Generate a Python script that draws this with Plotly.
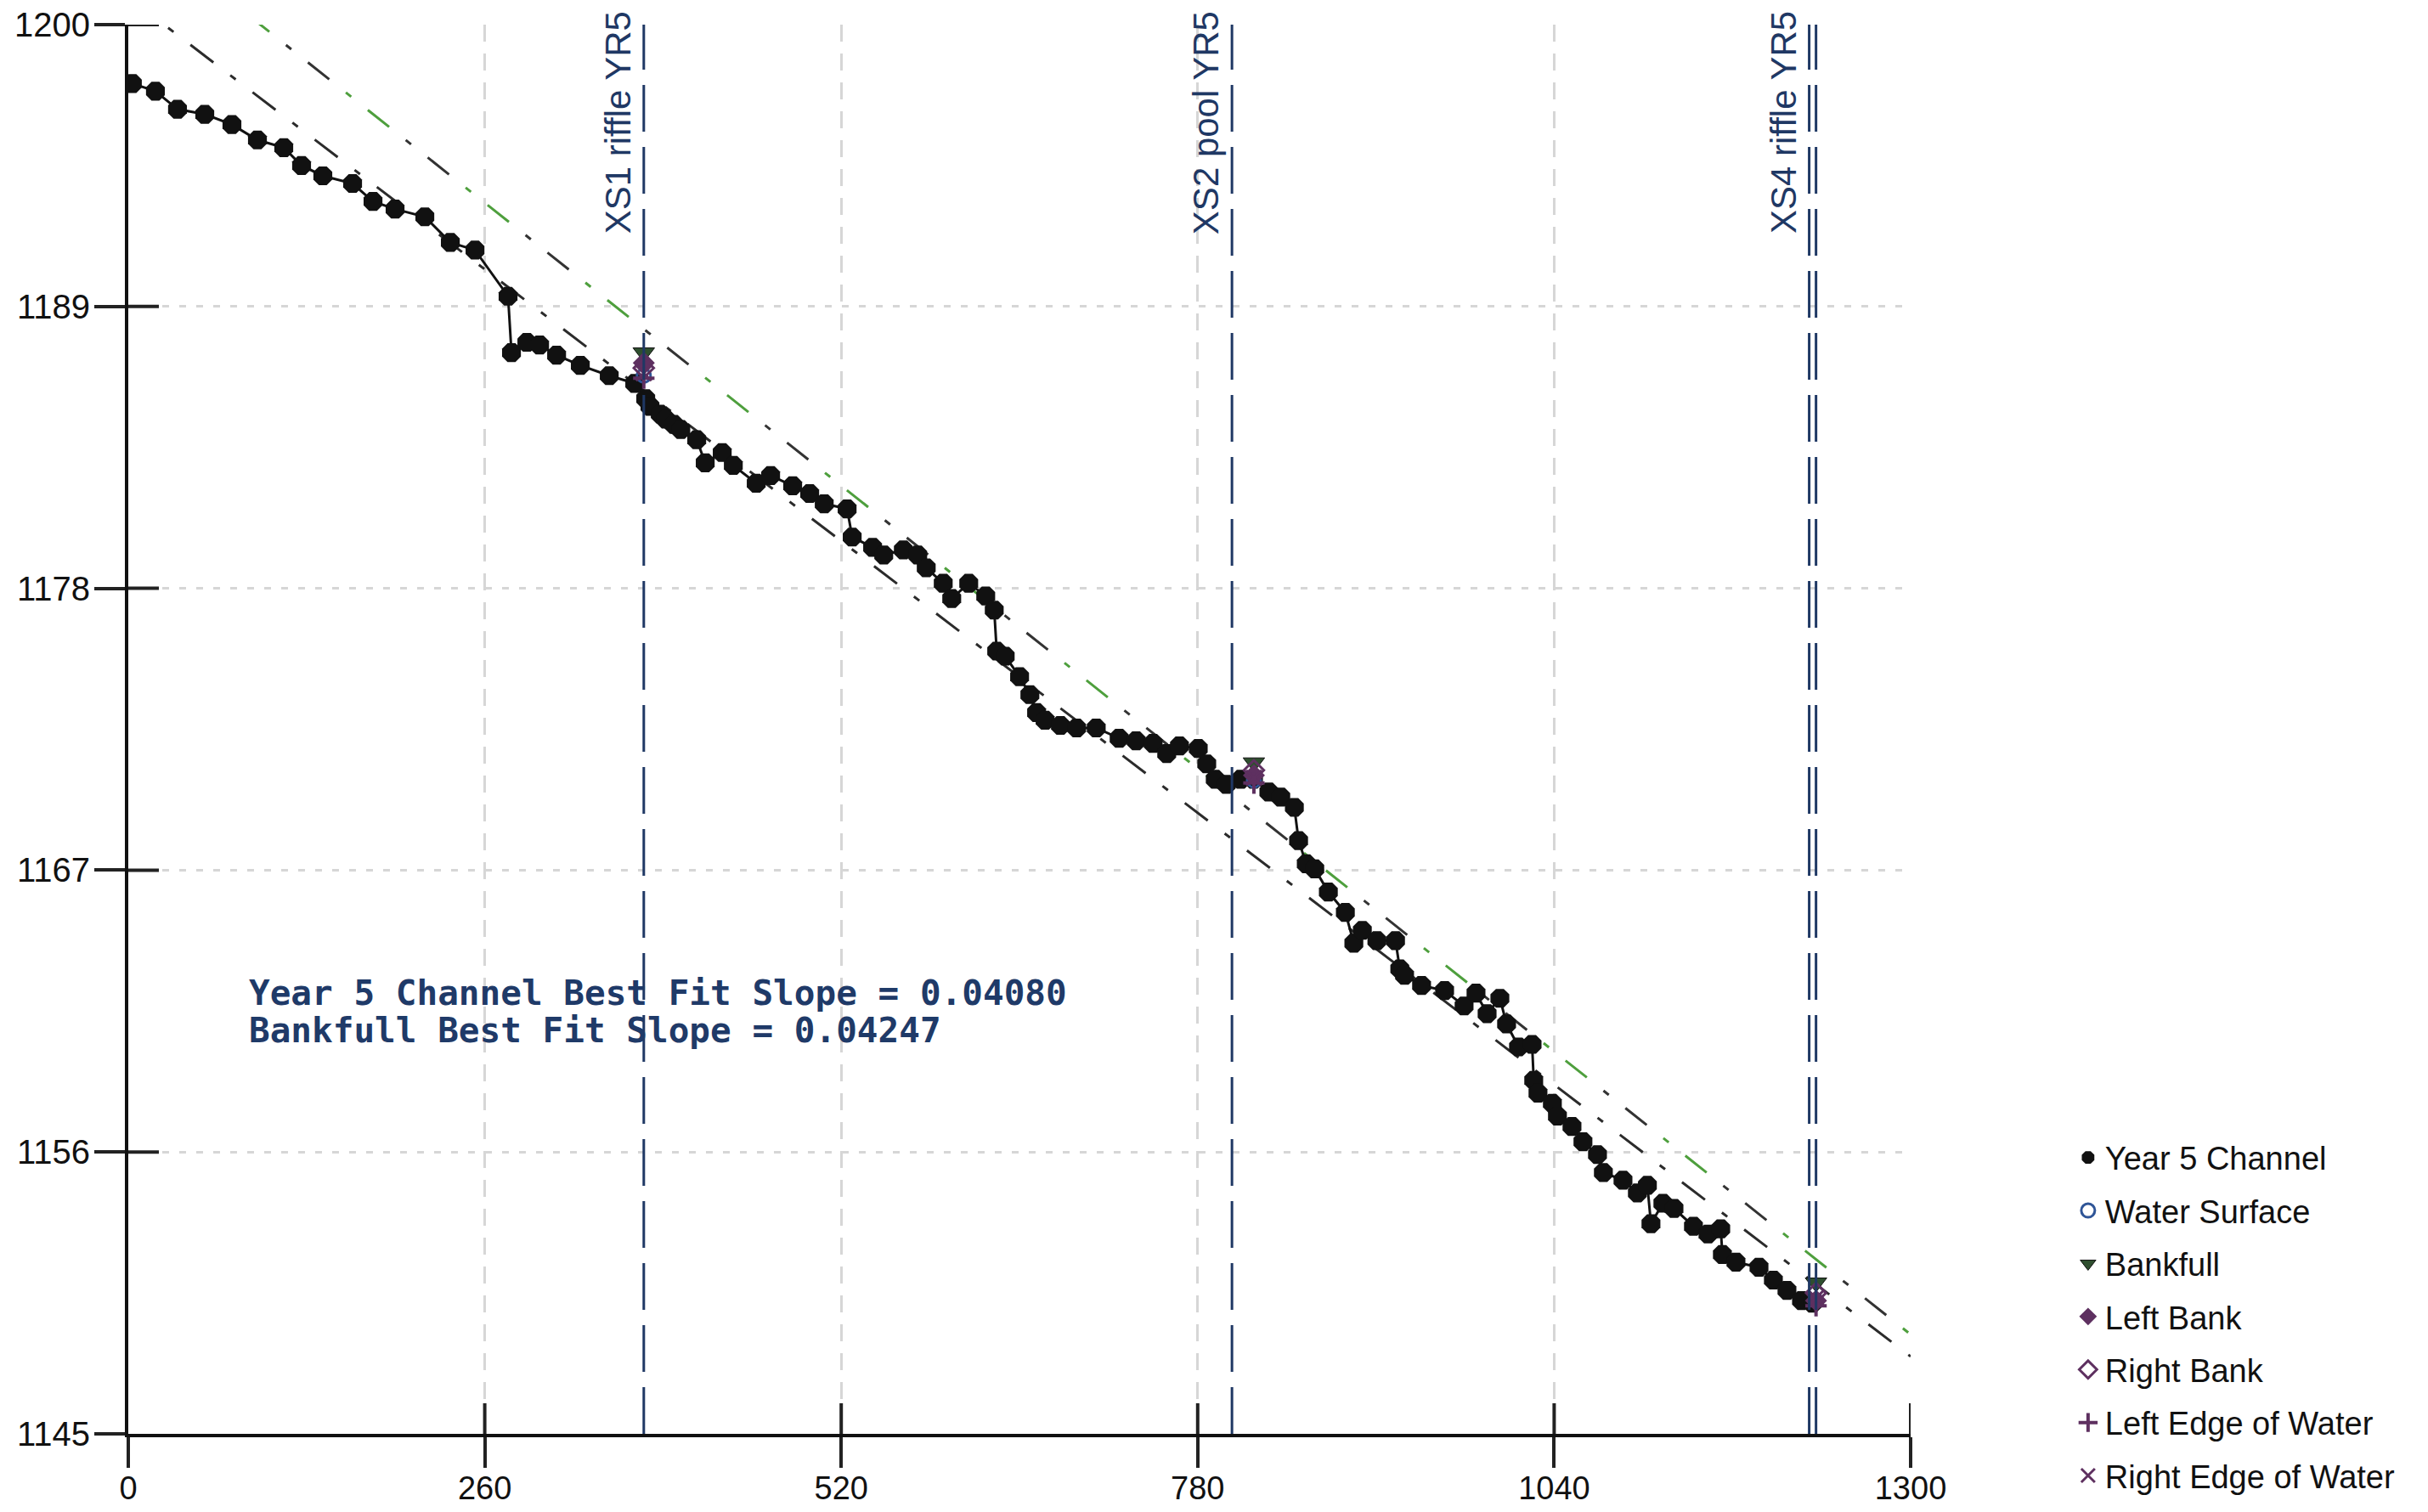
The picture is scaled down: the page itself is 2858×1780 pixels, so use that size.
import plotly.graph_objects as go

# ---- Year 5 longitudinal profile: station (ft) vs. thalweg elevation (ft) ----
station = [
    3.0, 19.8, 35.9, 55.8, 75.6, 94.2, 113.4, 126.4, 141.9, 163.6,
    178.5, 194.6, 216.3, 234.9, 252.9, 277.0, 279.5, 290.7, 300.0, 312.4,
    329.7, 350.8, 369.4, 377.4, 380.5, 388.0, 392.0, 397.9, 403.0, 414.6,
    420.8, 433.2, 441.3, 458.0, 468.5, 484.6, 497.0, 507.6, 524.3, 528.0,
    542.9, 551.0, 565.3, 575.8, 582.0, 594.4, 600.6, 613.0, 625.4, 631.6,
    633.4, 639.6, 650.1, 657.6, 662.5, 668.7, 679.9, 691.7, 706.0, 722.7,
    735.1, 747.5, 757.4, 766.7, 780.4, 786.6, 792.8, 800.9, 811.4, 820.7,
    831.9, 840.6, 850.5, 853.6, 859.2, 865.4, 875.3, 887.7, 893.9, 900.1,
    910.7, 924.3, 927.4, 930.9, 943.3, 960.1, 974.3, 983.0, 991.1, 1000.4,
    1005.3, 1014.0, 1023.9, 1025.1, 1028.2, 1038.7, 1042.4, 1053.0, 1061.0, 1071.6,
    1075.9, 1090.2, 1100.7, 1108.0, 1110.6, 1119.3, 1127.4, 1141.6, 1152.2, 1161.5,
    1162.7, 1172.6, 1189.4, 1199.9, 1209.8, 1220.4, 1228.4,
]
elevation = [
    1197.7, 1197.4, 1196.7, 1196.5, 1196.1, 1195.5, 1195.2, 1194.5, 1194.1, 1193.8,
    1193.1, 1192.8, 1192.5, 1191.5, 1191.2, 1189.4, 1187.2, 1187.6, 1187.5, 1187.1,
    1186.7, 1186.3, 1186.0, 1185.4, 1185.1, 1184.8, 1184.6, 1184.4, 1184.2, 1183.8,
    1182.9, 1183.3, 1182.8, 1182.1, 1182.4, 1182.0, 1181.7, 1181.3, 1181.1, 1180.0,
    1179.6, 1179.3, 1179.5, 1179.3, 1178.8, 1178.2, 1177.6, 1178.2, 1177.7, 1177.15,
    1175.55, 1175.35, 1174.55, 1173.85, 1173.15, 1172.85, 1172.65, 1172.55, 1172.55, 1172.15,
    1172.05, 1171.95, 1171.55, 1171.85, 1171.75, 1171.15, 1170.55, 1170.35, 1170.55, 1170.55,
    1170.05, 1169.85, 1169.45, 1168.15, 1167.25, 1167.05, 1166.15, 1165.35, 1164.15, 1164.65,
    1164.25, 1164.25, 1163.15, 1162.9, 1162.5, 1162.3, 1161.7, 1162.2, 1161.4, 1162.0,
    1161.0, 1160.1, 1160.2, 1158.8, 1158.3, 1157.9, 1157.4, 1157.0, 1156.4, 1155.9,
    1155.2, 1154.9, 1154.4, 1154.7, 1153.2, 1154.0, 1153.8, 1153.1, 1152.8, 1153.0,
    1152.0, 1151.7, 1151.5, 1151.0, 1150.6, 1150.2, 1150.1,
]

# ---- Cross-section survey features ----
feature_station = [376, 821, 1231]
water_surface = [1186.3, 1170.5, 1150.2]
bankfull = [1187.2, 1171.2, 1150.9]
left_bank = [1186.8, 1170.7, 1150.2]
right_bank = [1186.6, 1170.9, 1150.5]
left_edge_water = [1186.2, 1170.4, 1150.0]
right_edge_water = [1186.4, 1170.6, 1150.3]

# ---- Cross-section marker lines (XS4 is a double line) ----
xs_labels = ["XS1 riffle YR5", "XS2 pool YR5", "XS4 riffle YR5"]
xs_label_station = [376, 805, 1226]
xs_line_station = [376, 805, 1226, 1231]

# ---- Best fit lines ----
channel_slope = 0.04080
channel_intercept = 1201.06
bankfull_slope = 0.04247
bankfull_intercept = 1204.09
fit_station = [0, 1300]

# ---- Axes ----
x_ticks = [0, 260, 520, 780, 1040, 1300]
y_ticks = [1145, 1156, 1167, 1178, 1189, 1200]
x_range = [0, 1300]
y_range = [1145, 1200]

SANS = "Liberation Sans, Arial, sans-serif"
NAVY = "#1f3864"
PURPLE = "#5e3060"
BF_GREEN = "#4e9f3d"

fig = go.Figure()

channel_fit = [channel_intercept - channel_slope * s for s in fit_station]
bankfull_fit = [bankfull_intercept - bankfull_slope * s for s in fit_station]

# channel best fit (dark dash-dot)
fig.add_trace(go.Scatter(
    x=fit_station, y=channel_fit, mode="lines", showlegend=False, hoverinfo="skip",
    line=dict(color="#2b2b2b", width=3, dash="34px,25px,8px,25px"),
))
# bankfull best fit: alternating green / dark dash pattern
fig.add_trace(go.Scatter(
    x=fit_station, y=bankfull_fit, mode="lines", showlegend=False, hoverinfo="skip",
    line=dict(color=BF_GREEN, width=3, dash="32px,115px,8px,25px"),
))
fig.add_trace(go.Scatter(
    x=fit_station, y=bankfull_fit, mode="lines", showlegend=False, hoverinfo="skip",
    line=dict(color="#333333", width=3, dash="0px,57px,8px,25px,32px,58px"),
))

# profile line
fig.add_trace(go.Scatter(
    x=station, y=elevation, mode="lines", showlegend=False, hoverinfo="skip",
    line=dict(color="#111111", width=3),
))
# profile points
fig.add_trace(go.Scatter(
    x=station, y=elevation, mode="markers", name="Year 5 Channel", legendgroup="a",
    marker=dict(symbol="octagon", size=24, color="#111111", line=dict(width=0)),
))
fig.add_trace(go.Scatter(
    x=feature_station, y=water_surface, mode="markers", name="Water Surface", legendgroup="b",
    marker=dict(symbol="circle-open", size=16, color="#2f5597", line=dict(width=3)),
))
fig.add_trace(go.Scatter(
    x=feature_station, y=bankfull, mode="markers", name="Bankfull", legendgroup="c",
    marker=dict(symbol="triangle-down", size=22, color="#2f4f2f",
                line=dict(width=1, color="#111111")),
))
fig.add_trace(go.Scatter(
    x=feature_station, y=left_bank, mode="markers", name="Left Bank", legendgroup="d",
    marker=dict(symbol="diamond", size=20, color=PURPLE),
))
fig.add_trace(go.Scatter(
    x=feature_station, y=right_bank, mode="markers", name="Right Bank", legendgroup="e",
    marker=dict(symbol="diamond-open", size=18, color=PURPLE, line=dict(width=3)),
))
fig.add_trace(go.Scatter(
    x=feature_station, y=left_edge_water, mode="markers", name="Left Edge of Water", legendgroup="f",
    marker=dict(symbol="cross-thin-open", size=18, color=PURPLE, line=dict(width=4, color=PURPLE)),
))
fig.add_trace(go.Scatter(
    x=feature_station, y=right_edge_water, mode="markers", name="Right Edge of Water", legendgroup="g",
    marker=dict(symbol="x-thin-open", size=18, color=PURPLE, line=dict(width=3, color=PURPLE)),
))

shapes = []
# cross-section lines
for s in xs_line_station:
    shapes.append(dict(type="line", xref="x", yref="paper", x0=s, x1=s, y0=0, y1=1,
                       line=dict(color=NAVY, width=3, dash="55px,18px"), layer="above"))
# inner half of the crossing tick marks
for v in y_ticks[1:]:
    shapes.append(dict(type="line", xref="x", yref="y", xsizemode="pixel", xanchor=x_range[0],
                       x0=0, x1=36, y0=v, y1=v, line=dict(color="#222222", width=4)))
for v in x_ticks[1:]:
    shapes.append(dict(type="line", xref="x", yref="y", ysizemode="pixel", yanchor=y_range[0],
                       y0=0, y1=36, x0=v, x1=v, line=dict(color="#222222", width=4)))

annotations = []
for name, s in zip(xs_labels, xs_label_station):
    annotations.append(dict(
        text=name, x=s, xref="x", y=1, yref="paper", xanchor="right", yanchor="top",
        xshift=-5, yshift=18, textangle=-90, showarrow=False,
        font=dict(family=SANS, size=42, color=NAVY),
    ))
slope_lines = [
    "Year 5 Channel Best Fit Slope = %.5f" % channel_slope,
    "Bankfull Best Fit Slope = %.5f" % bankfull_slope,
]
for i, txt in enumerate(slope_lines):
    annotations.append(dict(
        text="<b>" + txt + "</b>", x=87, xref="x", y=1162.2 - 1.46 * i, yref="y",
        xanchor="left", yanchor="middle", showarrow=False,
        font=dict(family="DejaVu Sans Mono, Liberation Mono, monospace", size=41, color="#1f3a68"),
    ))

fig.update_layout(
    width=2858, height=1780,
    margin=dict(l=151, r=609, t=29, b=92, autoexpand=False),
    paper_bgcolor="white", plot_bgcolor="white",
    font=dict(family=SANS, size=40, color="#111111"),
    shapes=shapes, annotations=annotations,
    showlegend=True,
    legend=dict(
        xref="container", yref="container", x=0.853, y=0.252,
        xanchor="left", yanchor="top",
        font=dict(family=SANS, size=38, color="#111111"),
        bgcolor="rgba(0,0,0,0)", tracegroupgap=10, itemsizing="trace",
    ),
)
fig.update_xaxes(
    range=x_range, tickvals=x_ticks, ticktext=[str(v) for v in x_ticks],
    showline=True, linecolor="#111111", linewidth=4,
    ticks="outside", ticklen=36, tickwidth=4, tickcolor="#222222",
    ticklabelstandoff=-9,
    tickfont=dict(family=SANS, size=38, color="#111111"),
    showgrid=True, gridcolor="#d6d6d6", gridwidth=3, griddash="20px,14px",
    zeroline=False,
)
fig.update_yaxes(
    range=y_range, tickvals=y_ticks, ticktext=[str(v) for v in y_ticks],
    showline=True, linecolor="#111111", linewidth=4,
    ticks="outside", ticklen=36, tickwidth=4, tickcolor="#222222",
    ticklabelstandoff=-3,
    tickfont=dict(family=SANS, size=40, color="#111111"),
    showgrid=True, gridcolor="#d6d6d6", gridwidth=3, griddash="8px,12px",
    zeroline=False,
)

fig.write_html("out.html")
